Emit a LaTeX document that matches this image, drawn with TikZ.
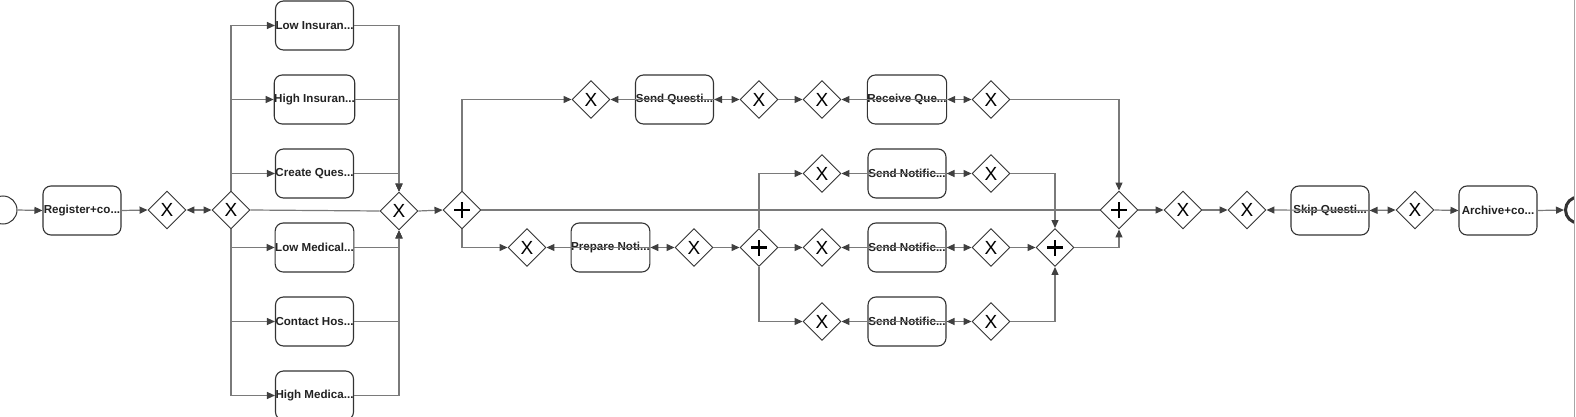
\documentclass[tikz,border=0pt]{standalone}
\usepackage{fontspec}
\setmainfont{Liberation Sans}
\newfontfamily\gwfont{Liberation Sans}
\usetikzlibrary{shapes.geometric,arrows.meta}
\definecolor{edgec}{HTML}{7A7A7A}
\definecolor{tipc}{HTML}{404040}
\definecolor{boxc}{HTML}{333333}
\definecolor{txtc}{HTML}{222222}
\tikzset{
  task/.style={draw=boxc, line width=1.1pt, rounded corners=8pt, minimum width=78pt, minimum height=49pt, inner sep=0pt, text=txtc, font=\fontsize{11.6}{13}\selectfont\bfseries},
  gw/.style={draw=boxc, line width=0.9pt, diamond, shape aspect=1, minimum width=38pt, minimum height=38pt, inner sep=0pt, fill=white, text=black, font=\gwfont\fontsize{19}{19}\selectfont},
  pl/.style={line width=2.2pt, black},
  flow/.style={draw=edgec, line width=1.2pt, -{Triangle[length=8pt,width=7pt,color=tipc]}},
  both/.style={draw=edgec, line width=1.2pt, {Triangle[length=8pt,width=7pt,color=tipc]}-{Triangle[length=8pt,width=7pt,color=tipc]}},
  plain/.style={draw=edgec, line width=1.2pt},
  startev/.style={circle, draw=boxc, line width=1pt, minimum size=28pt, inner sep=0pt},
  endev/.style={circle, draw=boxc, line width=3pt, minimum size=26pt, inner sep=0pt}
}
\newcommand{\plusmark}[1]{\draw[pl] ([xshift=-8pt]#1.center) -- ([xshift=8pt]#1.center); \draw[pl] ([yshift=-8pt]#1.center) -- ([yshift=8pt]#1.center);}
\begin{document}
\begin{tikzpicture}[x=1pt,y=-1pt]
\useasboundingbox (0,0) rectangle (1576,417);
% start
\node[startev] (start) at (3,210) {};
\node[task] (reg) at (82,210.5) {Register+co...};
\node[gw] (x1) at (167,210) {X};
\node[gw] (x2) at (231,210) {X};
\node[task] (t1) at (314.5,25.5) {Low Insuran...};
\node[task] (t2) at (314.5,99.5) {High Insuran...};
\node[task] (t3) at (314.5,173.5) {Create Ques...};
\node[task] (t4) at (314.5,247.5) {Low Medical...};
\node[task] (t5) at (314.5,321.5) {Contact Hos...};
\node[task] (t6) at (314.5,395.5) {High Medica...};
\node[gw] (x3) at (399,211) {X};
\node[gw] (a1) at (462,210) {};
% top row
\node[gw] (xq1) at (591,99.5) {X};
\node[task] (tq) at (674.5,99.5) {Send Questi...};
\node[gw] (xq2) at (759,99.5) {X};
\node[gw] (xq3) at (822,99.5) {X};
\node[task] (tr) at (907,99.5) {Receive Que...};
\node[gw] (xq4) at (991,99.5) {X};
% bottom branch
\node[gw] (xp1) at (527,247.5) {X};
\node[task] (tp) at (610.5,247.5) {Prepare Noti...};
\node[gw] (xp2) at (694,247.5) {X};
\node[gw] (a2) at (759,247.5) {};
% notifications
\node[gw] (xn1) at (822,173.5) {X};
\node[task] (tn1) at (907,173.5) {Send Notific...};
\node[gw] (xm1) at (991,173.5) {X};
\node[gw] (xn2) at (822,247.5) {X};
\node[task] (tn2) at (907,247.5) {Send Notific...};
\node[gw] (xm2) at (991,247.5) {X};
\node[gw] (xn3) at (822,321.5) {X};
\node[task] (tn3) at (907,321.5) {Send Notific...};
\node[gw] (xm3) at (991,321.5) {X};
\node[gw] (a3) at (1055,247.5) {};
\node[gw] (a4) at (1119,210) {};
% right part
\node[gw] (xr1) at (1183,210) {X};
\node[gw] (xr2) at (1247,210) {X};
\node[task] (ts) at (1330,210.5) {Skip Questi...};
\node[gw] (xr3) at (1415,210) {X};
\node[task] (ta) at (1498,210.5) {Archive+co...};
\begin{scope}
\clip (1500,0) rectangle (1574,417);
\node[endev] (endn) at (1578.5,210) {};
\end{scope}
\draw[gray!70, line width=1pt] (1574,0) -- (1574,417);
% plus marks
\plusmark{a1}\plusmark{a2}\plusmark{a3}\plusmark{a4}
% edges
\draw[flow] (start.east) -- (reg.west);
\draw[flow] (reg.east) -- (x1.west);
\draw[both] (x1.east) -- (x2.west);
\foreach \t in {t1,t2,t3} {\draw[flow] (x2.north) |- (\t.west); \draw[flow] (\t.east) -| (x3.north);}
\foreach \t in {t4,t5,t6} {\draw[flow] (x2.south) |- (\t.west); \draw[flow] (\t.east) -| (x3.south);}
\draw[plain] (x2.east) -- (x3.west);
\draw[flow] (x3.east) -- (a1.west);
\draw[plain] (a1.east) -- (a4.west);
\draw[flow] (a1.north) |- (xq1.west);
\draw[flow] (tq.east) -- (xq1.east);
\draw[both] (tq.east) -- (xq2.west);
\draw[flow] (xq2.east) -- (xq3.west);
\draw[flow] (tr.east) -- (xq3.east);
\draw[both] (tr.east) -- (xq4.west);
\draw[flow] (xq4.east) -| (a4.north);
\draw[flow] (a1.south) |- (xp1.west);
\draw[flow] (tp.east) -- (xp1.east);
\draw[both] (tp.east) -- (xp2.west);
\draw[flow] (xp2.east) -- (a2.west);
\draw[flow] (a2.north) |- (xn1.west);
\draw[flow] (a2.east) -- (xn2.west);
\draw[flow] (a2.south) |- (xn3.west);
\draw[flow] (tn1.east) -- (xn1.east);
\draw[both] (tn1.east) -- (xm1.west);
\draw[flow] (tn2.east) -- (xn2.east);
\draw[both] (tn2.east) -- (xm2.west);
\draw[flow] (tn3.east) -- (xn3.east);
\draw[both] (tn3.east) -- (xm3.west);
\draw[flow] (xm1.east) -| (a3.north);
\draw[flow] (xm2.east) -- (a3.west);
\draw[flow] (xm3.east) -| (a3.south);
\draw[flow] (a3.east) -| (a4.south);
\draw[flow] (a4.east) -- (xr1.west);
\draw[flow] (xr1.east) -- (xr2.west);
\draw[flow] (ts.east) -- (xr2.east);
\draw[both] (ts.east) -- (xr3.west);
\draw[flow] (xr3.east) -- (ta.west);
\draw[flow] (ta.east) -- (endn.west);
\end{tikzpicture}
\end{document}
